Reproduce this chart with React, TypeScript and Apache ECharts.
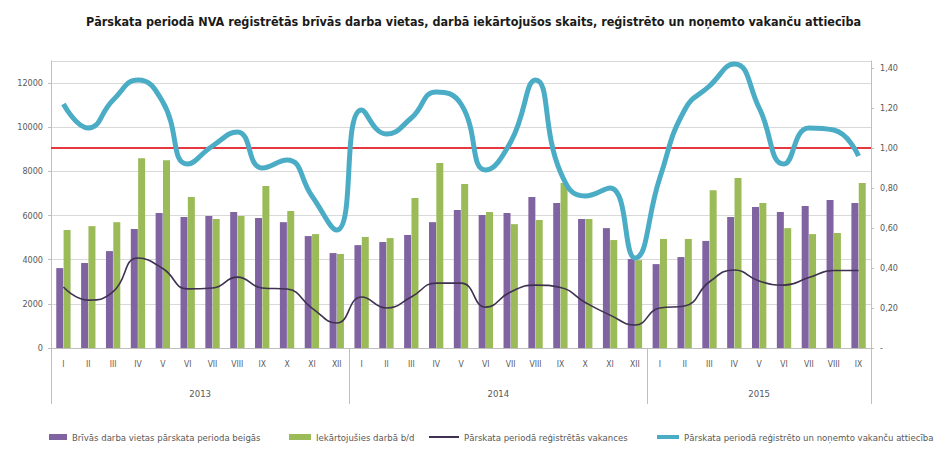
import React, { useEffect, useRef } from "react";
import * as echarts from "echarts";

const months = [
  "I","II","III","IV","V","VI","VII","VIII","IX","X","XI","XII",
  "I","II","III","IV","V","VI","VII","VIII","IX","X","XI","XII",
  "I","II","III","IV","V","VI","VII","VIII","IX",
];
const yearLabels = ["2013", "2014", "2015"];
const yearLabelIndex = [5, 17, 28];
const yearLabelShift = [true, true, false];
const yearBoundaries = [0, 12, 24];

const vacanciesEnd = [
  3620, 3850, 4390, 5390, 6110, 5930, 5980, 6160, 5890, 5700, 5070, 4300,
  4660, 4800, 5120, 5700, 6250, 6020, 6110, 6840, 6570, 5840, 5430, 4030,
  3800, 4120, 4850, 5930, 6390, 6160, 6430, 6700, 6570,
];
const employed = [
  5340, 5520, 5700, 8600, 8510, 6840, 5840, 5980, 7340, 6200, 5160, 4260,
  5030, 4980, 6790, 8380, 7430, 6160, 5610, 5800, 7470, 5840, 4890, 3980,
  4940, 4940, 7150, 7700, 6570, 5430, 5160, 5210, 7470,
];
const registered = [
  2760, 2170, 2550, 4075, 3600, 2680, 2720, 3210, 2720, 2670, 1810, 1130,
  2310, 1810, 2310, 2940, 2940, 1850, 2540, 2850, 2740, 2060, 1490, 1040,
  1810, 1900, 3000, 3530, 3030, 2850, 3190, 3510, 3510,
];
const ratio = [
  1.22, 1.10, 1.24, 1.34, 1.23, 0.92, 1.01, 1.08, 0.90, 0.94, 0.76, 0.59,
  1.19, 1.07, 1.15, 1.28, 1.22, 0.89, 1.03, 1.34, 0.88, 0.76, 0.80, 0.45,
  0.85, 1.19, 1.31, 1.42, 1.20, 0.92, 1.10, 1.09, 0.96,
];
const thresholdValue = 1.0;

const names = [
  "Brīvās darba vietas pārskata perioda beigās",
  "Iekārtojušies darbā b/d",
  "Pārskata periodā reģistrētās vakances",
  "Pārskata periodā reģistrēto un noņemto vakanču attiecība",
];

const FONT = "'Liberation Sans Narrow', 'DejaVu Sans Condensed', 'Noto Sans', sans-serif";
const GRAY = "#595959";

export default function App() {
  const ref = useRef<HTMLDivElement>(null);
  useEffect(() => {
    if (!ref.current) return;
    const chart = echarts.init(ref.current, null, { renderer: "svg" });
    const legendText = { fontFamily: FONT, fontSize: 9.5, color: GRAY };
    const common = { top: 432, padding: 0, itemGap: 2, textStyle: legendText };
    chart.setOption({
      animation: false,
      backgroundColor: "#ffffff",
      title: {
        text: "Pārskata periodā NVA reģistrētās brīvās darba vietas, darbā iekārtojušos skaits, reģistrēto un noņemto vakanču attiecība",
        left: "center",
        top: 10,
        textStyle: { fontFamily: FONT, fontSize: 12.5, fontWeight: "bold", color: "#1a1a1a" },
      },
      legend: [
        { ...common, data: [{ name: names[0], icon: "rect" }], left: 49, itemWidth: 18, itemHeight: 6 },
        { ...common, data: [{ name: names[1], icon: "rect" }], left: 289, itemWidth: 22, itemHeight: 6 },
        { ...common, data: [{ name: names[2], icon: "rect" }], left: 429, itemWidth: 30, itemHeight: 2 },
        { ...common, data: [{ name: names[3], icon: "rect" }], left: 657, itemWidth: 22, itemHeight: 4 },
      ],
      grid: { left: 51, right: 76, top: 61, bottom: 102 },
      xAxis: [
        {
          type: "category",
          data: months,
          axisLine: { lineStyle: { color: "#bfbfbf" } },
          axisTick: { show: false },
          axisLabel: { interval: 0, fontFamily: FONT, fontSize: 8.5, color: GRAY, margin: 11 },
        },
        {
          type: "category",
          data: months.map((_, i) => {
            const k = yearLabelIndex.indexOf(i);
            return k >= 0 ? yearLabels[k] : "";
          }),
          position: "bottom",
          axisLine: { show: false },
          axisTick: {
            show: true,
            length: 56,
            interval: (i: number) => yearBoundaries.indexOf(i) >= 0,
            lineStyle: { color: "#bfbfbf" },
          },
          axisLabel: {
            interval: (i: number) => yearLabelIndex.indexOf(i) >= 0,
            margin: 40,
            formatter: (v: string, i: number) => {
              const k = yearLabelIndex.indexOf(i);
              return k >= 0 && yearLabelShift[k] ? `{s|${v}}` : `{n|${v}}`;
            },
            rich: {
              s: { fontFamily: FONT, fontSize: 9.5, color: GRAY, padding: [0, 0, 0, 25] },
              n: { fontFamily: FONT, fontSize: 9.5, color: GRAY },
            },
          },
        },
      ],
      yAxis: [
        {
          type: "value",
          min: 0,
          max: 13000,
          interval: 2000,
          axisLine: { show: true, lineStyle: { color: "#bfbfbf" } },
          axisTick: { show: true, length: 3, lineStyle: { color: "#bfbfbf" } },
          splitLine: { lineStyle: { color: "#d9d9d9" } },
          axisLabel: {
            fontFamily: FONT,
            fontSize: 9,
            color: GRAY,
            margin: 8,
            showMaxLabel: false,
            formatter: (v: number) => (v % 2000 === 0 ? String(v) : ""),
          },
        },
        {
          type: "value",
          min: 0,
          max: 1.435,
          interval: 0.2,
          position: "right",
          axisLine: { show: true, lineStyle: { color: "#bfbfbf" } },
          axisTick: { show: true, length: 3, lineStyle: { color: "#bfbfbf" } },
          splitLine: { show: false },
          axisLabel: {
            fontFamily: FONT,
            fontSize: 9,
            color: GRAY,
            margin: 9,
            showMaxLabel: false,
            formatter: (v: number) => {
              if (v === 0) return "-";
              const r = Math.round(v * 100);
              if (r % 20 !== 0) return "";
              return v.toFixed(2).replace(".", ",");
            },
          },
        },
      ],
      series: [
        {
          name: names[0],
          type: "bar",
          data: vacanciesEnd,
          barWidth: 7,
          barGap: "5%",
          itemStyle: { color: "#8064A2" },
        },
        {
          name: names[1],
          type: "bar",
          data: employed,
          barWidth: 7,
          barGap: "5%",
          itemStyle: { color: "#9BBB59" },
        },
        {
          name: names[2],
          type: "line",
          data: registered,
          smooth: 0.5,
          symbol: "none",
          lineStyle: { color: "#3F3151", width: 1.6 },
          itemStyle: { color: "#3F3151" },
          z: 3,
        },
        {
          name: names[3],
          type: "line",
          yAxisIndex: 1,
          data: ratio,
          smooth: 0.5,
          symbol: "none",
          lineStyle: { color: "#4BACC6", width: 5 },
          itemStyle: { color: "#4BACC6" },
          z: 4,
          markLine: {
            silent: true,
            symbol: "none",
            label: { show: false },
            lineStyle: { color: "#E5393F", width: 2, type: "solid" },
            data: [{ yAxis: thresholdValue }],
            z: 2,
          },
        },
      ],
    });
    return () => chart.dispose();
  }, []);
  return (
    <div
      ref={ref}
      style={{ position: "absolute", left: 0, top: 0, width: 947, height: 450 }}
    />
  );
}
